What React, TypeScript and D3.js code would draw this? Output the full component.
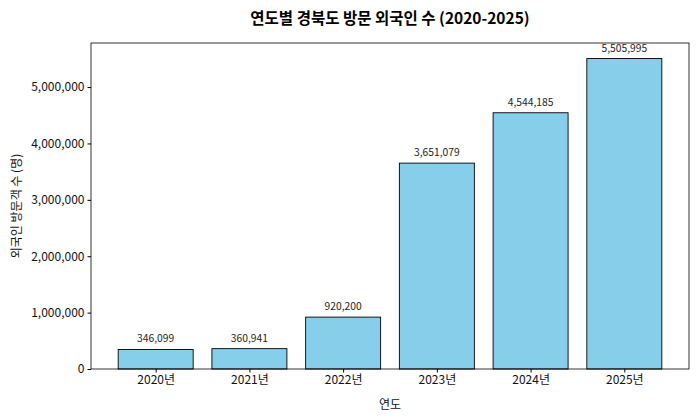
import { useEffect, useRef } from 'react'
import * as d3 from 'd3'

const years = ['2020년', '2021년', '2022년', '2023년', '2024년', '2025년']
const visitors = [346099, 360941, 920200, 3651079, 4544185, 5505995]
const yTicks = [0, 1000000, 2000000, 3000000, 4000000, 5000000]

const FONT = '"Noto Sans CJK KR", "Noto Sans", sans-serif'

export default function App() {
  const svgRef = useRef<SVGSVGElement>(null)

  useEffect(() => {
    if (!svgRef.current) return
    const svg = d3.select(svgRef.current)
    svg.selectAll('*').remove()

    const width = 700
    const height = 420
    const margin = { top: 43, right: 11, bottom: 51, left: 91 }
    const innerWidth = width - margin.left - margin.right
    const innerHeight = height - margin.top - margin.bottom

    const g = svg.append('g').attr('transform', `translate(${margin.left},${margin.top})`)

    // matplotlib-like: bar width 0.8, 5% margins
    const x = d3.scaleLinear().domain([-0.69, years.length - 1 + 0.69]).range([0, innerWidth])
    const y = d3.scaleLinear().domain([0, d3.max(visitors)! * 1.05]).range([innerHeight, 0])
    const fmt = d3.format(',')

    // bars
    g.selectAll('rect.bar')
      .data(visitors)
      .enter()
      .append('rect')
      .attr('class', 'bar')
      .attr('x', (_, i) => x(i - 0.4))
      .attr('width', x(0.4) - x(-0.4))
      .attr('y', d => y(d))
      .attr('height', d => innerHeight - y(d))
      .attr('fill', '#87ceeb')
      .attr('stroke', '#000')
      .attr('stroke-width', 0.9)

    // value labels
    g.selectAll('text.val')
      .data(visitors)
      .enter()
      .append('text')
      .attr('class', 'val')
      .attr('x', (_, i) => x(i))
      .attr('y', d => y(d) - 7)
      .attr('text-anchor', 'middle')
      .attr('font-family', FONT)
      .attr('font-size', 10.3)
      .attr('fill', '#222')
      .text(d => fmt(d))

    // y axis
    const yAxis = g.append('g')
      .call(d3.axisLeft(y).tickValues(yTicks).tickFormat(d => fmt(d as number)).tickSize(3.5).tickPadding(3))
    yAxis.select('.domain').remove()
    yAxis.selectAll('text').attr('font-family', FONT).attr('font-size', 12).attr('fill', '#111')

    // x axis
    const xAxis = g.append('g')
      .attr('transform', `translate(0,${innerHeight})`)
      .call(d3.axisBottom(x).tickValues(d3.range(years.length)).tickFormat(d => years[d as number]).tickSize(3.5).tickPadding(3))
    xAxis.select('.domain').remove()
    xAxis.selectAll('text').attr('font-family', FONT).attr('font-size', 12).attr('fill', '#111')

    // frame
    g.append('rect')
      .attr('width', innerWidth)
      .attr('height', innerHeight)
      .attr('fill', 'none')
      .attr('stroke', '#000')
      .attr('stroke-width', 0.8)

    // title
    svg.append('text')
      .attr('x', margin.left + innerWidth / 2)
      .attr('y', 24)
      .attr('text-anchor', 'middle')
      .attr('font-family', FONT)
      .attr('font-weight', 'bold')
      .attr('font-size', 15.5)
      .attr('fill', '#000')
      .text('연도별 경북도 방문 외국인 수 (2020-2025)')

    // axis titles
    svg.append('text')
      .attr('x', margin.left + innerWidth / 2)
      .attr('y', 409)
      .attr('text-anchor', 'middle')
      .attr('font-family', FONT)
      .attr('font-size', 12)
      .attr('fill', '#111')
      .text('연도')

    svg.append('text')
      .attr('transform', `translate(21,${margin.top + innerHeight / 2}) rotate(-90)`)
      .attr('text-anchor', 'middle')
      .attr('font-family', FONT)
      .attr('font-size', 12)
      .attr('fill', '#111')
      .text('외국인 방문객 수 (명)')
  }, [])

  return (
    <div style={{ position: 'absolute', left: 0, top: 0 }}>
      <svg ref={svgRef} width={700} height={420} style={{ display: 'block', background: '#fff' }} />
    </div>
  )
}
